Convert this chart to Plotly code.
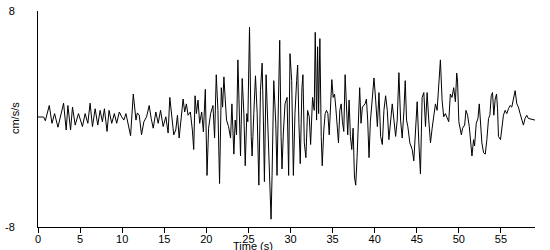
import plotly.graph_objects as go

time_s = [0.0, 0.67, 0.87, 1.34, 1.66, 1.97, 2.37, 2.64, 3.04, 3.35, 3.55, 3.87, 4.1, 4.42, 4.81, 5.28, 5.6, 5.92, 6.19, 6.47,
          6.79, 7.1, 7.38, 7.65, 7.89, 8.2, 8.44, 8.76, 9.07, 9.35, 9.66, 9.94, 10.2, 10.45, 10.73, 11.0, 11.32, 11.64, 11.8, 12.03,
          12.3, 12.58, 12.9, 13.21, 13.45, 13.69, 14.0, 14.28, 14.56, 14.87, 15.19, 15.46, 15.66, 15.98, 16.13, 16.37, 16.57, 16.77, 17.04, 17.24,
          17.43, 17.63, 17.83, 18.1, 18.34, 18.5, 18.66, 18.82, 19.01, 19.21, 19.45, 19.65, 19.88, 20.08, 20.27, 20.51, 20.79, 20.98, 21.18, 21.38,
          21.57, 21.78, 21.93, 22.09, 22.25, 22.4, 22.64, 22.88, 23.04, 23.27, 23.43, 23.59, 23.75, 23.9, 24.06, 24.26, 24.46, 24.62, 24.81, 24.93,
          25.13, 25.33, 25.44, 25.64, 25.84, 26.04, 26.24, 26.43, 26.63, 26.78, 26.9, 27.1, 27.3, 27.49, 27.69, 27.81, 28.01, 28.25, 28.4, 28.56,
          28.72, 28.88, 28.99, 29.15, 29.35, 29.59, 29.78, 29.94, 30.14, 30.34, 30.53, 30.73, 30.85, 31.0, 31.16, 31.36, 31.48, 31.64, 31.83, 32.03,
          32.23, 32.39, 32.62, 32.82, 32.94, 33.1, 33.22, 33.34, 33.49, 33.65, 33.77, 33.96, 34.12, 34.28, 34.44, 34.6, 34.75, 34.91, 35.07, 35.23,
          35.38, 35.54, 35.7, 35.86, 36.02, 36.17, 36.33, 36.49, 36.65, 36.8, 36.96, 37.12, 37.28, 37.44, 37.6, 37.75, 37.91, 38.07, 38.22, 38.38,
          38.54, 38.86, 39.02, 39.17, 39.33, 39.49, 39.73, 39.92, 40.12, 40.32, 40.51, 40.71, 40.91, 41.1, 41.3, 41.5, 41.69, 41.89, 42.09, 42.29,
          42.49, 42.68, 42.88, 43.08, 43.27, 43.47, 43.63, 43.79, 43.94, 44.18, 44.46, 44.65, 44.85, 45.05, 45.25, 45.44, 45.64, 45.84, 46.04, 46.23,
          46.43, 46.63, 46.83, 47.02, 47.22, 47.42, 47.61, 47.81, 48.01, 48.2, 48.4, 48.6, 48.8, 48.99, 49.19, 49.39, 49.59, 49.75, 49.85, 50.0,
          50.14, 50.3, 50.45, 50.69, 50.85, 51.04, 51.24, 51.44, 51.56, 51.75, 51.87, 52.07, 52.27, 52.43, 52.58, 52.74, 52.94, 53.14, 53.33, 53.53,
          53.69, 53.85, 54.0, 54.16, 54.32, 54.48, 54.6, 54.71, 54.95, 55.11, 55.3, 55.5, 55.7, 55.9, 56.09, 56.29, 56.49, 56.69, 56.89, 57.08,
          57.28, 57.48, 57.67, 57.87, 58.07, 58.26, 58.66, 59.05]

accel_cms2 = [0.15, 0.15, -0.13, 1.0, -0.32, 0.4, -0.61, 0.04, 1.17, -0.81, 1.0, -0.81, 0.88, -0.45, 0.4, -0.56, 0.4, -0.32, 1.17, -0.56,
              0.76, -0.45, 0.64, -0.2, 0.76, -0.92, 0.64, -0.32, 0.4, -0.32, 0.52, 0.16, -0.08, 0.4, -0.56, -1.24, 1.85, -0.08, 0.45, 0.28,
              -1.17, -0.2, 0.16, 1.0, 0.04, -0.68, 0.52, -0.32, 0.64, -0.56, 0.16, -1.04, 1.6, -0.2, -1.17, -0.81, 0.28, -1.41, 0.64, 1.48,
              0.52, 1.12, 0.28, 0.52, -0.81, -2.26, 1.72, 0.4, 1.4, -0.32, 0.52, -0.95, 2.2, -4.18, -0.68, 0.4, 1.0, -1.41, 3.28, 0.64,
              -4.78, 2.32, 0.88, 3.12, 1.4, -0.08, -0.56, -1.41, 1.12, -2.6, -0.08, -1.17, 4.38, 1.12, -2.74, 3.0, 0.4, -3.46, 0.4, -0.2,
              6.8, -1.29, -2.74, 0.4, 3.2, 0.4, -4.9, 2.1, 4.14, -0.08, -4.64, 3.28, -0.45, -3.7, -7.42, -4.18, 2.84, -0.32, -4.18, 1.12,
              5.83, -1.29, -3.7, -1.04, 1.12, 1.6, -4.18, 4.84, 2.84, -4.18, 0.4, 2.84, 4.0, -0.32, -3.31, 2.32, 3.28, -1.77, -2.86, 0.64,
              0.16, -1.89, 1.6, 0.64, 6.42, -0.08, 5.35, 0.4, 5.95, -1.29, -3.46, -0.8, 0.4, 0.64, 0.4, -1.17, 0.64, 2.92, 1.6, 1.85,
              0.88, -0.56, -1.77, 0.64, 1.12, -0.2, -0.92, 3.28, 0.4, -1.17, 1.4, -1.29, -2.26, -0.68, -4.3, -4.9, -2.86, 0.4, 2.32, -0.32,
              0.88, 1.12, 1.48, -0.08, -2.86, -0.2, 1.85, 3.04, 1.4, -0.56, 1.96, -1.29, -1.89, 0.64, 1.72, 0.64, -1.53, 0.16, 1.12, -0.08,
              -1.29, -0.08, 3.43, -0.08, -1.41, 0.52, 2.84, -0.08, -0.56, -1.77, -2.26, -3.1, -0.56, 1.28, -1.77, -4.06, 1.6, 1.96, -0.56, 1.96,
              -0.08, -1.77, -0.68, 0.16, 1.12, 0.64, 2.84, 4.38, 1.4, 0.16, 0.4, 0.04, -0.2, 1.85, 1.6, 2.32, 1.28, 3.4, 2.8, -0.2,
              -0.56, -1.17, -0.68, -0.45, 0.64, 0.28, -0.56, -1.77, -2.74, -1.53, -2.0, -0.32, 0.04, 1.12, -0.68, -1.77, -2.5, -2.6, -1.53, 0.04,
              0.28, 1.72, 1.96, 0.28, 1.48, 1.85, 0.76, -1.29, -1.53, -0.8, 0.28, 0.64, 0.4, 0.76, 1.0, 0.88, 1.4, 2.1, 1.12, 0.88,
              0.4, 0.04, -0.45, 0.04, 0.28, 0.04, -0.04, -0.08]

x_ticks = [0, 5, 10, 15, 20, 25, 30, 35, 40, 45, 50, 55]
y_ticks = [-8, 8]
y_tick_text = ["-8", "8"]

font = dict(family="Liberation Sans, Arial, sans-serif", size=11, color="black")

fig = go.Figure(go.Scatter(x=time_s, y=accel_cms2, mode="lines",
                           line=dict(color="black", width=1), hoverinfo="skip"))

fig.update_layout(
    width=550, height=250,
    margin=dict(l=35, r=15, t=5, b=23),
    paper_bgcolor="white", plot_bgcolor="white",
    showlegend=False, font=font,
    xaxis=dict(range=[0, 59.05], tickvals=x_ticks, ticks="outside", ticklen=5, tickwidth=1,
               tickcolor="black", showline=True, linecolor="black", linewidth=1,
               showgrid=False, zeroline=False, tickfont=font, ticklabelstandoff=-3,
               ticklabeloverflow="allow"),
    yaxis=dict(range=[-8, 8], tickvals=y_ticks, ticktext=y_tick_text, ticks="", showline=True,
               linecolor="black", linewidth=1, showgrid=False, zeroline=False, tickfont=font,
               ticklabelstandoff=20, ticklabeloverflow="allow"),
    annotations=[
        dict(text="Time (s)", xref="paper", yref="paper", x=0.432, y=-0.088,
             showarrow=False, xanchor="center", yanchor="middle", font=font),
        dict(text="cm/s/s", xref="paper", yref="paper", x=-0.046, y=0.505, textangle=-90,
             showarrow=False, xanchor="center", yanchor="middle", font=font),
    ],
)

fig.write_html("out.html")
